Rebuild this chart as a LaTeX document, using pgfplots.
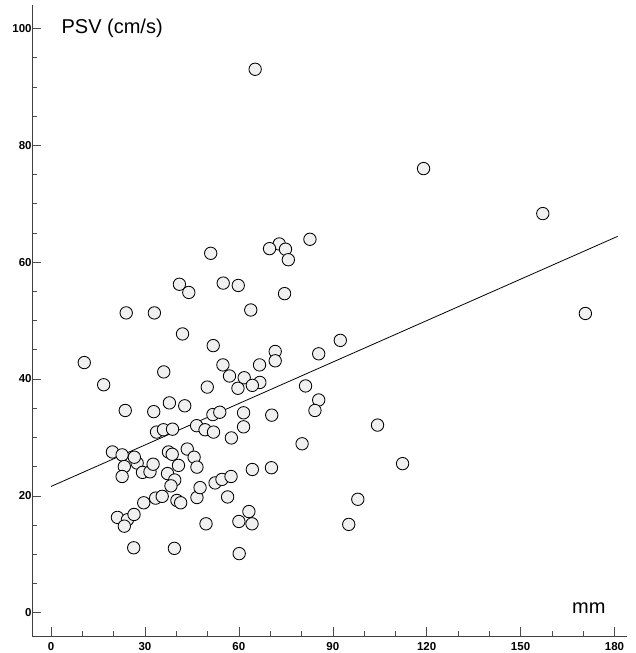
\documentclass[border=0pt]{standalone}
\usepackage{pgfplots}
\pgfplotsset{compat=1.18}
\usepackage{fontspec}
\setmainfont{Liberation Sans}
\begin{document}
\begin{tikzpicture}
\begin{axis}[
  at={(0,0)}, anchor=south west,
  scale only axis, width=594.7pt, height=631pt,
  xmin=-6, xmax=184, ymin=-4, ymax=104,
  axis x line*=bottom, axis y line*=left,
  axis line style={-, black!75, line width=0.6pt},
  xtick={0,30,...,180}, ytick={0,20,...,100},
  minor x tick num=2, minor y tick num=3,
  tick align=inside,
  major tick length=9pt, minor tick length=5pt,
  tick style={black!70, line width=0.5pt},
  /pgf/number format/assume math mode=true,
  ticklabel style={font=\fontsize{11.5}{13}\selectfont\bfseries},
  xticklabel style={yshift=-2.5pt},
  yticklabel style={inner xsep=0.5pt},
  clip=false,
]
\addplot[only marks, mark=*, mark size=6.2pt,
  mark options={draw=black, fill=black!6, line width=0.85pt}]
  coordinates {
  (65.2,93.0) (119.0,76.0) (157.1,68.3) (170.7,51.2) (82.7,63.9)
  (72.9,63.1) (69.8,62.3) (74.9,62.2) (75.8,60.4) (51.0,61.5)
  (55.0,56.4) (59.8,56.0) (41.0,56.2) (44.0,54.8) (74.6,54.6)
  (63.8,51.8) (24.0,51.3) (33.0,51.3) (42.0,47.7) (51.8,45.7)
  (92.4,46.6) (85.5,44.3) (71.6,44.7) (71.6,43.1) (10.6,42.8)
  (36.0,41.2) (16.8,39.0) (54.9,42.4) (66.6,42.4) (57.0,40.5)
  (61.7,40.2) (66.7,39.4) (64.3,38.9) (59.7,38.4) (49.9,38.6)
  (81.3,38.8) (85.5,36.4) (84.3,34.6) (23.7,34.6) (32.8,34.4)
  (37.8,35.9) (42.7,35.4) (51.7,33.9) (53.9,34.3) (61.5,34.2)
  (70.5,33.8) (46.5,32.0) (49.2,31.3) (51.9,30.9) (61.5,31.8)
  (57.6,29.9) (80.2,28.9) (104.3,32.1) (112.3,25.5) (98.0,19.4)
  (95.1,15.1) (33.7,30.9) (35.9,31.3) (38.8,31.4) (19.6,27.5)
  (27.5,25.6) (22.7,27.0) (26.6,26.6) (23.4,25.0) (22.7,23.3)
  (29.2,24.0) (31.6,24.1) (32.6,25.4) (37.5,27.5) (38.7,27.1)
  (43.5,28.0) (45.7,26.6) (46.6,24.9) (40.7,25.2) (37.2,23.8)
  (39.5,22.7) (38.3,21.7) (29.6,18.8) (33.4,19.6) (35.5,19.9)
  (40.2,19.2) (41.4,18.8) (46.6,19.7) (47.6,21.4) (52.4,22.2)
  (54.6,22.8) (57.5,23.3) (56.4,19.8) (64.3,24.5) (70.4,24.8)
  (21.2,16.3) (24.4,15.9) (26.5,16.8) (23.4,14.8) (49.5,15.2)
  (60.0,15.6) (63.2,17.3) (64.2,15.2) (26.4,11.1) (39.4,11.0)
  (60.1,10.1)
  };
\addplot[black, line width=0.8pt] coordinates {(0,21.6) (181,64.4)};
\node[anchor=base west, inner sep=0pt, font=\fontsize{20}{22}\selectfont] at (axis cs:3.3,99.2) {PSV (cm/s)};
\node[anchor=base west, inner sep=0pt, font=\fontsize{20}{22}\selectfont] at (axis cs:166.4,-0.2) {mm};
\end{axis}
\pgfresetboundingbox
\path (-32.3pt,-17pt) rectangle (602.7pt,636pt);
\end{tikzpicture}
\end{document}
